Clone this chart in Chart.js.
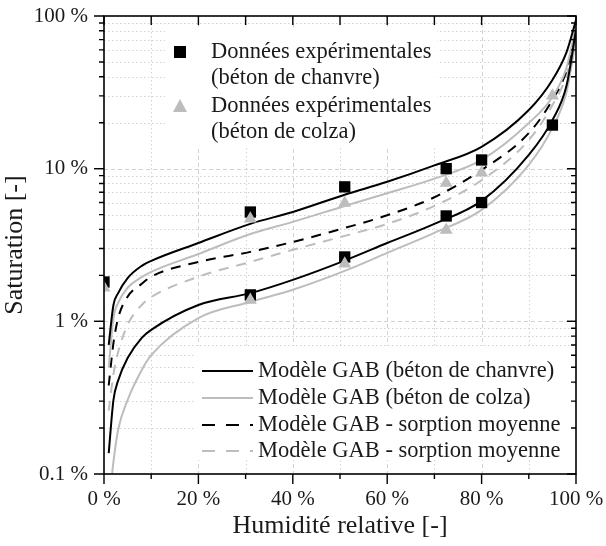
<!DOCTYPE html>
<html>
<head>
<meta charset="utf-8">
<script src="https://cdn.jsdelivr.net/npm/chart.js@4/dist/chart.umd.min.js"></script>
<style>
  html, body { margin: 0; padding: 0; background: #fff; }
  canvas { display: block; }
</style>
</head>
<body>
<canvas id="chart" width="606" height="546"></canvas>
<script>
// relative humidity (%) where the model curves were read
const humidity = [1, 2, 3, 5, 8, 10, 20, 31, 40, 51, 60, 70, 80, 90, 95, 98, 100];

// GAB model curves, saturation (%)
const gabHempUpper  = [0.70, 1.28, 1.53, 1.92, 2.31, 2.49, 3.26, 4.35, 5.20, 6.75, 8.2, 10.5, 13.9, 24.2, 38.1, 58, 94];
const gabColzaUpper = [0.50, 1.05, 1.32, 1.66, 1.95, 2.11, 2.76, 3.73, 4.48, 5.70, 6.9, 8.6, 11.4, 19.9, 29.5, 46, 87];
const gabHempMean   = [0.38, 0.72, 1.05, 1.45, 1.76, 1.96, 2.45, 2.85, 3.31, 4.09, 4.95, 6.5, 9.8, 17.1, 28.2, 44, 81];
const gabColzaMean  = [0.26, 0.45, 0.63, 0.95, 1.28, 1.44, 1.96, 2.45, 2.94, 3.63, 4.35, 5.7, 8.4, 15.4, 26.1, 41, 75];
const gabHempLower  = [0.137, 0.305, 0.41, 0.575, 0.78, 0.88, 1.28, 1.53, 1.87, 2.50, 3.26, 4.35, 6.15, 12.3, 20.8, 35, 81];
const gabColzaLower = [0.06, 0.12, 0.195, 0.305, 0.48, 0.60, 1.05, 1.34, 1.61, 2.14, 2.81, 3.8, 5.37, 10.6, 18.5, 31.8, 70];

// experimental points
const hempHumidity = [0, 31, 51, 72.5, 80, 95, 31, 51, 72.5, 80];
const hempSaturation = [1.81, 5.2, 7.6, 10.0, 11.4, 19.3, 1.49, 2.64, 4.9, 6.0];
const colzaHumidity = [0, 31, 51, 72.5, 80, 95, 31, 51, 72.5];
const colzaSaturation = [1.66, 4.69, 5.96, 8.05, 9.4, 30, 1.38, 2.38, 3.97];

const xTicks = [0, 20, 40, 60, 80, 100];
const yTicks = [0.1, 1, 10, 100];

const pointLabels = [
  ['Données expérimentales', '(béton de chanvre)'],
  ['Données expérimentales', '(béton de colza)']
];
const lineLabels = [
  'Modèle GAB (béton de chanvre)',
  'Modèle GAB (béton de colza)',
  'Modèle GAB - sorption moyenne',
  'Modèle GAB - sorption moyenne'
];

const BLACK = '#000000';
const GREY = '#bdbdbd';
const FONT = "'Liberation Serif', 'Times New Roman', serif";
const TEXT = '#1a1a1a';

function toPoints(xs, ys) {
  return xs.map((x, i) => ({ x: x, y: ys[i] }));
}

function curve(values, color, dashed) {
  return {
    type: 'line',
    data: toPoints(humidity, values),
    borderColor: color,
    borderWidth: 2,
    borderDash: dashed ? [10, 8] : [],
    pointRadius: 0,
    cubicInterpolationMode: 'monotone',
    fill: false,
    order: 3
  };
}

function noPadding(s) {
  s.paddingLeft = 0;
  s.paddingRight = 0;
  s.paddingTop = 0;
  s.paddingBottom = 0;
}

const frameAndLegend = {
  id: 'frameAndLegend',
  beforeDatasetsDraw(chart) {
    const { ctx, chartArea: a, scales: { x, y } } = chart;
    ctx.save();
    ctx.lineWidth = 1;
    ctx.strokeStyle = '#d2d2d2';
    for (let v = 10; v < 100; v += 10) {
      const px = Math.round(x.getPixelForValue(v)) + 0.5;
      ctx.setLineDash(v % 20 === 0 ? [4, 3] : [1.5, 2.5]);
      ctx.beginPath(); ctx.moveTo(px, a.top); ctx.lineTo(px, a.bottom); ctx.stroke();
    }
    [0.1, 1, 10].forEach(dec => {
      for (let k = 1; k <= 9; k++) {
        const v = dec * k;
        if (k === 1 && dec === 0.1) continue;
        const py = Math.round(y.getPixelForValue(v)) + 0.5;
        ctx.setLineDash(k === 1 ? [4, 3] : [1.5, 2.5]);
        ctx.beginPath(); ctx.moveTo(a.left, py); ctx.lineTo(a.right, py); ctx.stroke();
      }
    });
    ctx.setLineDash([]);
    // legend boxes hide the grid behind them
    ctx.fillStyle = '#ffffff';
    ctx.fillRect(165, 28, 272, 118);
    ctx.fillRect(196, 346, a.right - 197, 114);
    ctx.restore();
  },
  afterDatasetsDraw(chart) {
    const { ctx, chartArea: a, scales: { x, y } } = chart;
    ctx.save();
    ctx.strokeStyle = '#000';
    ctx.lineWidth = 1.6;
    ctx.strokeRect(a.left, a.top, a.right - a.left, a.bottom - a.top);
    ctx.lineWidth = 1.4;
    for (let v = 0; v <= 100; v += 10) {
      const px = x.getPixelForValue(v);
      const major = v % 20 === 0;
      ctx.beginPath();
      ctx.moveTo(px, a.bottom); ctx.lineTo(px, a.bottom + (major ? 10 : 5));
      ctx.moveTo(px, a.top); ctx.lineTo(px, a.top + 9);
      ctx.stroke();
    }
    [0.1, 1, 10].forEach(dec => {
      for (let k = 1; k <= 10; k++) {
        const py = y.getPixelForValue(dec * k);
        const major = k === 1 || k === 10;
        ctx.beginPath();
        ctx.moveTo(a.left, py); ctx.lineTo(a.left - (major ? 10 : 5), py);
        ctx.moveTo(a.right, py); ctx.lineTo(a.right - (major ? 9 : 5), py);
        ctx.stroke();
      }
    });
    ctx.restore();
  },
  afterDraw(chart) {
    const ctx = chart.ctx;
    ctx.save();
    ctx.font = '22.5px ' + FONT;
    ctx.fillStyle = TEXT;
    ctx.textBaseline = 'middle';
    ctx.textAlign = 'left';

    // top legend: experimental data
    const rows = [52, 78, 106, 132];
    ctx.fillStyle = '#000';
    ctx.fillRect(174, rows[0] - 6, 12, 12);
    ctx.fillStyle = GREY;
    ctx.beginPath();
    ctx.moveTo(180, rows[2] - 7); ctx.lineTo(187, rows[2] + 6); ctx.lineTo(173, rows[2] + 6);
    ctx.closePath(); ctx.fill();
    ctx.fillStyle = TEXT;
    ctx.fillText(pointLabels[0][0], 211, rows[0]);
    ctx.fillText(pointLabels[0][1], 211, rows[1]);
    ctx.fillText(pointLabels[1][0], 211, rows[2]);
    ctx.fillText(pointLabels[1][1], 211, rows[3]);

    // bottom legend: model curves
    const lrows = [371, 398, 425, 451];
    const styles = [[BLACK, []], [GREY, []], [BLACK, [13, 11]], [GREY, [13, 11]]];
    lineLabels.forEach((label, i) => {
      ctx.strokeStyle = styles[i][0];
      ctx.setLineDash(styles[i][1]);
      ctx.lineWidth = 2;
      ctx.beginPath(); ctx.moveTo(202, lrows[i]); ctx.lineTo(253, lrows[i]); ctx.stroke();
      ctx.fillText(label, 258, lrows[i]);
    });
    ctx.restore();
  }
};

Chart.defaults.font.family = FONT;
Chart.defaults.color = TEXT;

new Chart(document.getElementById('chart'), {
  type: 'line',
  data: {
    datasets: [
      curve(gabHempUpper, BLACK, false),
      curve(gabHempLower, BLACK, false),
      curve(gabColzaUpper, GREY, false),
      curve(gabColzaLower, GREY, false),
      curve(gabHempMean, BLACK, true),
      curve(gabColzaMean, GREY, true),
      {
        type: 'scatter',
        data: toPoints(hempHumidity, hempSaturation),
        pointStyle: 'rect',
        pointRadius: 8,
        backgroundColor: BLACK,
        borderColor: BLACK,
        borderWidth: 0,
        order: 2
      },
      {
        type: 'scatter',
        data: toPoints(colzaHumidity, colzaSaturation),
        pointStyle: 'triangle',
        pointRadius: 7.5,
        backgroundColor: GREY,
        borderColor: GREY,
        borderWidth: 0,
        order: 1
      }
    ]
  },
  options: {
    responsive: false,
    animation: false,
    devicePixelRatio: 1,
    layout: { padding: { left: 0, top: 16, right: 30, bottom: 0 } },
    plugins: { legend: { display: false }, tooltip: { enabled: false } },
    scales: {
      x: {
        type: 'linear',
        min: 0,
        max: 100,
        afterBuildTicks: s => { s.ticks = xTicks.map(v => ({ value: v })); },
        afterFit: s => { s.height = 72; noPadding(s); },
        grid: { display: false, drawTicks: false },
        border: { display: false },
        ticks: {
          padding: 13,
          font: { size: 21, family: FONT },
          color: TEXT,
          callback: v => v + ' %'
        },
        title: {
          display: true,
          text: 'Humidité relative [-]',
          font: { size: 26, family: FONT },
          color: TEXT,
          padding: { top: 0, bottom: 4 }
        }
      },
      y: {
        type: 'logarithmic',
        min: 0.1,
        max: 100,
        afterBuildTicks: s => { s.ticks = yTicks.map(v => ({ value: v })); },
        afterFit: s => { s.width = 104; noPadding(s); },
        grid: { display: false, drawTicks: false },
        border: { display: false },
        ticks: {
          padding: 16,
          font: { size: 21, family: FONT },
          color: TEXT,
          callback: v => v + ' %'
        },
        title: {
          display: true,
          text: 'Saturation [-]',
          font: { size: 26, family: FONT },
          color: TEXT,
          padding: { top: 0, bottom: 0 }
        }
      }
    }
  },
  plugins: [frameAndLegend]
});
</script>
</body>
</html>
